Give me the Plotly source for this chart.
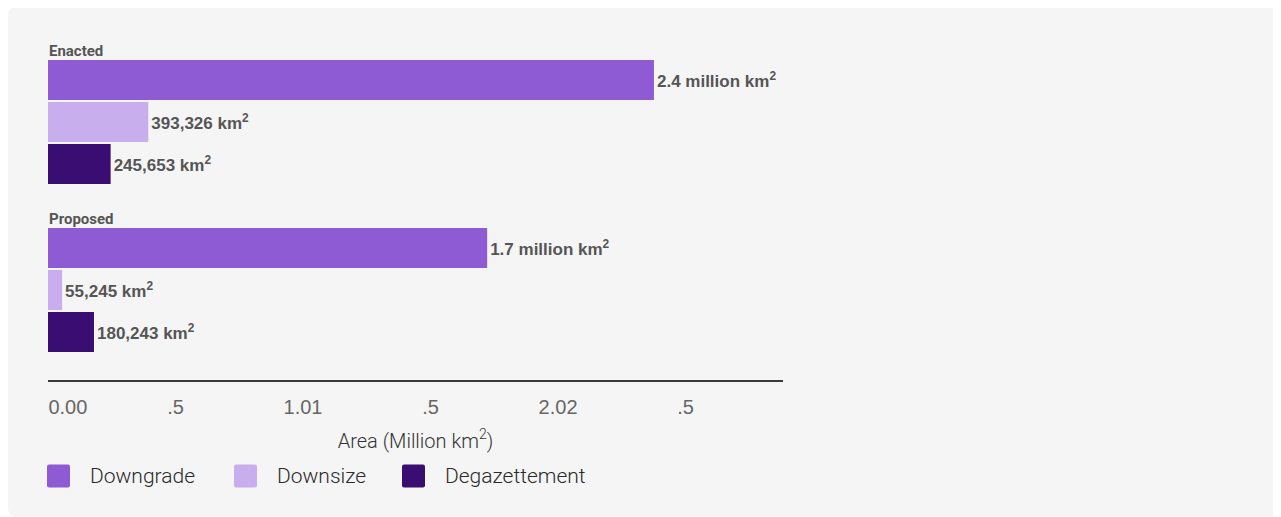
import plotly.graph_objects as go

# ---------------- data ----------------
groups = ["Enacted", "Proposed"]
series = ["Downgrade", "Downsize", "Degazettement"]
colors = ["#8e5bd4", "#c8aeec", "#3a0d73"]
# area in million km² : [Enacted, Proposed]
downgrade = [2.376, 1.722]
downsize = [0.393326, 0.055245]
degazettement = [0.245653, 0.180243]
labels_downgrade = ["2.4 million km<sup>2</sup>", "1.7 million km<sup>2</sup>"]
labels_downsize = ["393,326 km<sup>2</sup>", "55,245 km<sup>2</sup>"]
labels_degazettement = ["245,653 km<sup>2</sup>", "180,243 km<sup>2</sup>"]
tick_vals = [0.078, 0.5, 1.0, 1.5, 2.0, 2.5]
tick_text = ["0.00", ".5", "1.01", ".5", "2.02", ".5"]
axis_title = "Area (Million km<sup>2</sup>)"

values = [downgrade, downsize, degazettement]
texts = [labels_downgrade, labels_downsize, labels_degazettement]

# ---------------- layout geometry (page pixels; page has 8px body margin) ----------------
W_FIG, H_FIG = 1281, 517
OFF = 8
L, T, PW, PH = 48, 30, 735, 350          # plot area in page pixels
ML, MT = L - OFF, T - OFF                 # margins in figure pixels
MR = W_FIG - ML - PW
MB = H_FIG - MT - PH


def px(x):
    return (x - L) / PW


def py(y):
    return (T + PH - y) / PH


def rounded_rect(x0, y0, x1, y1, r):
    """SVG path in paper coords for a rect given in page pixels."""
    return (
        f"M {px(x0 + r)},{py(y0)} L {px(x1 - r)},{py(y0)} "
        f"Q {px(x1)},{py(y0)} {px(x1)},{py(y0 + r)} L {px(x1)},{py(y1 - r)} "
        f"Q {px(x1)},{py(y1)} {px(x1 - r)},{py(y1)} L {px(x0 + r)},{py(y1)} "
        f"Q {px(x0)},{py(y1)} {px(x0)},{py(y1 - r)} L {px(x0)},{py(y0 + r)} "
        f"Q {px(x0)},{py(y0)} {px(x0 + r)},{py(y0)} Z"
    )


fig = go.Figure()

group_rows = 4  # rows per group incl. spacer
for si, name in enumerate(series):
    ys = [gi * group_rows + si for gi in range(len(groups))]
    fig.add_trace(go.Bar(
        name=name,
        orientation="h",
        x=values[si],
        y=ys,
        width=40 / 42,
        marker=dict(color=colors[si], line=dict(width=0)),
        text=texts[si],
        texttemplate="%{text}",
        textposition="outside",
        constraintext="none",
        cliponaxis=False,
        textfont=dict(family="Liberation Sans", size=17, color="#555555", weight="bold"),
        hoverinfo="skip",
        showlegend=False,
    ))

# group labels
annotations = []
for gi, g in enumerate(groups):
    annotations.append(dict(
        text=g, x=0, xref="x", xanchor="left",
        y=gi * group_rows - 0.69, yref="y", yanchor="middle",
        showarrow=False, borderpad=0,
        font=dict(family="Roboto", size=15, color="#555555", weight="bold"),
    ))

# card background with rounded corners (drawn first, below everything)
shapes = [dict(type="path", xref="paper", yref="paper",
               path=rounded_rect(8, 7, 1420, 516.5, 9),
               fillcolor="#f5f5f5", line=dict(width=0), layer="below")]

# custom legend
leg_sq_x = [47, 234, 402]
leg_y0, leg_y1 = 464.5, 487.5
for si, name in enumerate(series):
    x0 = leg_sq_x[si]
    shapes.append(dict(
        type="path", xref="paper", yref="paper",
        path=rounded_rect(x0, leg_y0, x0 + 23, leg_y1, 2),
        fillcolor=colors[si], line=dict(width=0),
    ))
    annotations.append(dict(
        text=name, xref="paper", yref="paper",
        x=px(x0 + 42), xanchor="left", y=py(476), yanchor="middle",
        showarrow=False, borderpad=0,
        font=dict(family="Roboto", size=21, color="#2a2a2a", weight=300),
    ))

fig.update_layout(
    width=W_FIG, height=H_FIG,
    margin=dict(l=ML, r=MR, t=MT, b=MB, pad=0),
    paper_bgcolor="#ffffff",
    plot_bgcolor="rgba(0,0,0,0)",
    barmode="overlay",
    showlegend=False,
    shapes=shapes,
    annotations=annotations,
    xaxis=dict(
        range=[0, 2.882], showgrid=False, zeroline=False,
        showline=True, linecolor="#3a3a3a", linewidth=1.5,
        tickmode="array", tickvals=tick_vals, ticktext=tick_text,
        ticks="outside", ticklen=8, tickcolor="rgba(0,0,0,0)",
        tickfont=dict(family="Liberation Sans", size=20, color="#666666"),
        title=dict(text=axis_title, standoff=17,
                   font=dict(family="Roboto", size=20, color="#333333", weight=300)),
        fixedrange=True,
    ),
    yaxis=dict(
        range=[300 / 42, -50 / 42], showgrid=False, zeroline=False,
        showline=False, showticklabels=False, fixedrange=True,
    ),
)

fig.write_html(
    "out.html",
    post_script="document.documentElement.style.overflow='hidden';"
                "document.body.style.overflow='hidden';",
)
